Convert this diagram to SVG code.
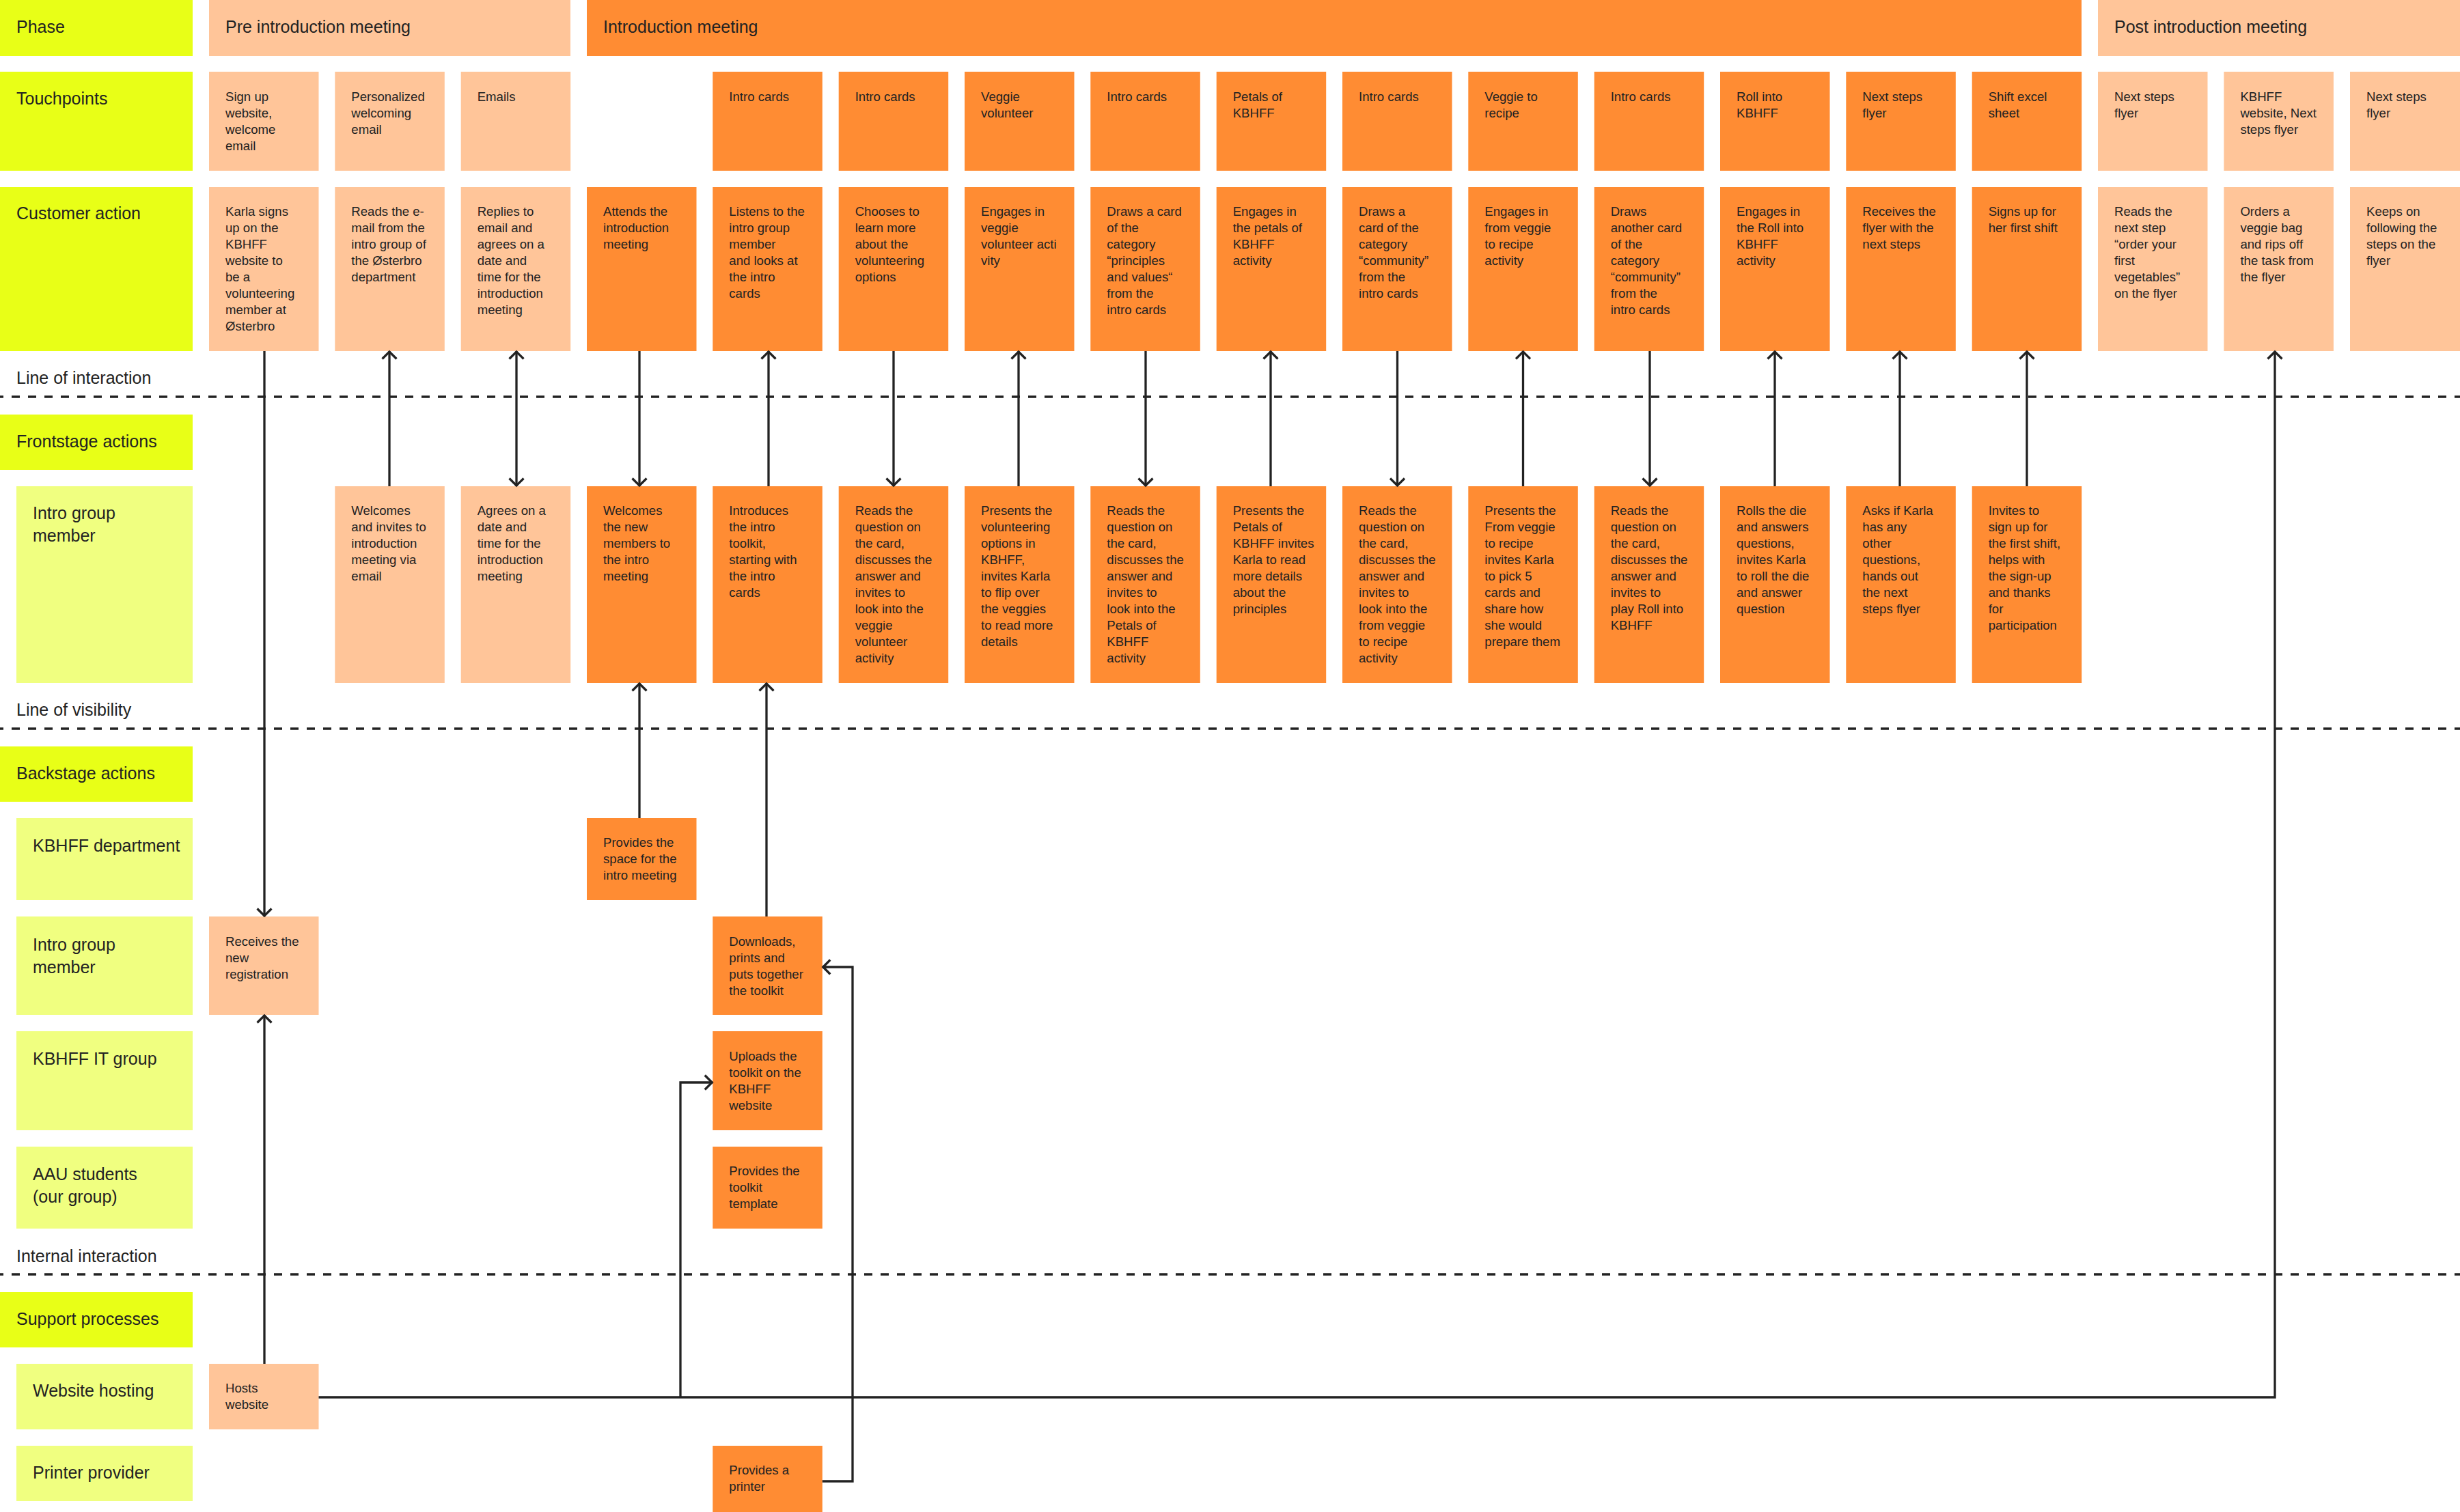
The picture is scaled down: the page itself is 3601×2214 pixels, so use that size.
<svg xmlns="http://www.w3.org/2000/svg" width="3601" height="2214" viewBox="0 0 3601 2214">
<style>
text{font-family:"Liberation Sans",Arial,sans-serif;fill:#222}
.s{font-size:18.6px}
.h{font-size:25px}
.lime{fill:#e8ff17}.pale{fill:#f0ff80}.org{fill:#ff8c33}.pch{fill:#ffc599}
.c{fill:none;stroke:#222;stroke-width:3.3}
.d{fill:none;stroke:#222;stroke-width:3.3;stroke-dasharray:12 12;stroke-dashoffset:7}
</style>
<defs>
<marker id="a" markerUnits="userSpaceOnUse" markerWidth="26" markerHeight="28" refX="14" refY="14" orient="auto-start-reverse" viewBox="0 0 26 28"><path d="M2.500 3.500L13 14L2.500 24.500" fill="none" stroke="#222" stroke-width="3.300"/></marker>
</defs>
<rect width="3601" height="2214" fill="#fff"/>
<g id="labels">
<g id="l-phase"><rect class="lime" x="0" y="0" width="282" height="82"/><text class="h" x="24" y="48">Phase</text></g>
<g id="l-touch"><rect class="lime" x="0" y="105" width="282" height="145"/><text class="h" x="24" y="153">Touchpoints</text></g>
<g id="l-cust"><rect class="lime" x="0" y="274" width="282" height="240"/><text class="h" x="24" y="321">Customer action</text></g>
<text class="h" x="24" y="562">Line of interaction</text>
<g id="l-front"><rect class="lime" x="0" y="607" width="282" height="81"/><text class="h" x="24" y="655">Frontstage actions</text></g>
<g id="l-intro1"><rect class="pale" x="24" y="712" width="258" height="288"/><text class="h" x="48" y="760">Intro group<tspan x="48" dy="33">member</tspan></text></g>
<text class="h" x="24" y="1048">Line of visibility</text>
<g id="l-back"><rect class="lime" x="0" y="1093" width="282" height="81"/><text class="h" x="24" y="1141">Backstage actions</text></g>
<g id="l-dept"><rect class="pale" x="24" y="1198" width="258" height="120"/><text class="h" x="48" y="1247">KBHFF department</text></g>
<g id="l-intro2"><rect class="pale" x="24" y="1342" width="258" height="144"/><text class="h" x="48" y="1392">Intro group<tspan x="48" dy="33">member</tspan></text></g>
<g id="l-it"><rect class="pale" x="24" y="1510" width="258" height="145"/><text class="h" x="48" y="1559">KBHFF IT group</text></g>
<g id="l-aau"><rect class="pale" x="24" y="1679" width="258" height="120"/><text class="h" x="48" y="1728">AAU students<tspan x="48" dy="33">(our group)</tspan></text></g>
<text class="h" x="24" y="1848">Internal interaction</text>
<g id="l-support"><rect class="lime" x="0" y="1892" width="282" height="81"/><text class="h" x="24" y="1940">Support processes</text></g>
<g id="l-host"><rect class="pale" x="24" y="1997" width="258" height="96"/><text class="h" x="48" y="2045">Website hosting</text></g>
<g id="l-print"><rect class="pale" x="24" y="2117" width="258" height="81"/><text class="h" x="48" y="2165">Printer provider</text></g>
</g>
<g id="phases">
<g id="p-pre"><rect class="pch" x="306" y="0" width="529" height="82"/><text class="h" x="330" y="48">Pre introduction meeting</text></g>
<g id="p-intro"><rect class="org" x="859" y="0" width="2188" height="82"/><text class="h" x="883" y="48">Introduction meeting</text></g>
<g id="p-post"><rect class="pch" x="3071" y="0" width="530" height="82"/><text class="h" x="3095" y="48">Post introduction meeting</text></g>
</g>
<g id="touchpoints">
<g id="t0"><rect class="pch" x="306" y="105" width="160.500" height="145"/><text class="s" x="330" y="147.500">Sign up<tspan x="330" dy="24">website,</tspan><tspan x="330" dy="24">welcome</tspan><tspan x="330" dy="24">email</tspan></text></g>
<g id="t1"><rect class="pch" x="490.300" y="105" width="160.500" height="145"/><text class="s" x="514.300" y="147.500">Personalized<tspan x="514.300" dy="24">welcoming</tspan><tspan x="514.300" dy="24">email</tspan></text></g>
<g id="t2"><rect class="pch" x="674.700" y="105" width="160.500" height="145"/><text class="s" x="698.700" y="147.500">Emails</text></g>
<g id="t4"><rect class="org" x="1043.300" y="105" width="160.500" height="145"/><text class="s" x="1067.300" y="147.500">Intro cards</text></g>
<g id="t5"><rect class="org" x="1227.700" y="105" width="160.500" height="145"/><text class="s" x="1251.700" y="147.500">Intro cards</text></g>
<g id="t6"><rect class="org" x="1412" y="105" width="160.500" height="145"/><text class="s" x="1436" y="147.500">Veggie<tspan x="1436" dy="24">volunteer</tspan></text></g>
<g id="t7"><rect class="org" x="1596.300" y="105" width="160.500" height="145"/><text class="s" x="1620.300" y="147.500">Intro cards</text></g>
<g id="t8"><rect class="org" x="1780.700" y="105" width="160.500" height="145"/><text class="s" x="1804.700" y="147.500">Petals of<tspan x="1804.700" dy="24">KBHFF</tspan></text></g>
<g id="t9"><rect class="org" x="1965" y="105" width="160.500" height="145"/><text class="s" x="1989" y="147.500">Intro cards</text></g>
<g id="t10"><rect class="org" x="2149.300" y="105" width="160.500" height="145"/><text class="s" x="2173.300" y="147.500">Veggie to<tspan x="2173.300" dy="24">recipe</tspan></text></g>
<g id="t11"><rect class="org" x="2333.700" y="105" width="160.500" height="145"/><text class="s" x="2357.700" y="147.500">Intro cards</text></g>
<g id="t12"><rect class="org" x="2518" y="105" width="160.500" height="145"/><text class="s" x="2542" y="147.500">Roll into<tspan x="2542" dy="24">KBHFF</tspan></text></g>
<g id="t13"><rect class="org" x="2702.300" y="105" width="160.500" height="145"/><text class="s" x="2726.300" y="147.500">Next steps<tspan x="2726.300" dy="24">flyer</tspan></text></g>
<g id="t14"><rect class="org" x="2886.700" y="105" width="160.500" height="145"/><text class="s" x="2910.700" y="147.500">Shift excel<tspan x="2910.700" dy="24">sheet</tspan></text></g>
<g id="t15"><rect class="pch" x="3071" y="105" width="160.500" height="145"/><text class="s" x="3095" y="147.500">Next steps<tspan x="3095" dy="24">flyer</tspan></text></g>
<g id="t16"><rect class="pch" x="3255.400" y="105" width="160.500" height="145"/><text class="s" x="3279.400" y="147.500">KBHFF<tspan x="3279.400" dy="24">website, Next</tspan><tspan x="3279.400" dy="24">steps flyer</tspan></text></g>
<g id="t17"><rect class="pch" x="3440" y="105" width="161" height="145"/><text class="s" x="3464" y="147.500">Next steps<tspan x="3464" dy="24">flyer</tspan></text></g>
</g>
<g id="customer">
<g id="c0"><rect class="pch" x="306" y="274" width="160.500" height="240"/><text class="s" x="330" y="316">Karla signs<tspan x="330" dy="24">up on the</tspan><tspan x="330" dy="24">KBHFF</tspan><tspan x="330" dy="24">website to</tspan><tspan x="330" dy="24">be a</tspan><tspan x="330" dy="24">volunteering</tspan><tspan x="330" dy="24">member at</tspan><tspan x="330" dy="24">Østerbro</tspan></text></g>
<g id="c1"><rect class="pch" x="490.300" y="274" width="160.500" height="240"/><text class="s" x="514.300" y="316">Reads the e-<tspan x="514.300" dy="24">mail from the</tspan><tspan x="514.300" dy="24">intro group of</tspan><tspan x="514.300" dy="24">the Østerbro</tspan><tspan x="514.300" dy="24">department</tspan></text></g>
<g id="c2"><rect class="pch" x="674.700" y="274" width="160.500" height="240"/><text class="s" x="698.700" y="316">Replies to<tspan x="698.700" dy="24">email and</tspan><tspan x="698.700" dy="24">agrees on a</tspan><tspan x="698.700" dy="24">date and</tspan><tspan x="698.700" dy="24">time for the</tspan><tspan x="698.700" dy="24">introduction</tspan><tspan x="698.700" dy="24">meeting</tspan></text></g>
<g id="c3"><rect class="org" x="859" y="274" width="160.500" height="240"/><text class="s" x="883" y="316">Attends the<tspan x="883" dy="24">introduction</tspan><tspan x="883" dy="24">meeting</tspan></text></g>
<g id="c4"><rect class="org" x="1043.300" y="274" width="160.500" height="240"/><text class="s" x="1067.300" y="316">Listens to the<tspan x="1067.300" dy="24">intro group</tspan><tspan x="1067.300" dy="24">member</tspan><tspan x="1067.300" dy="24">and looks at</tspan><tspan x="1067.300" dy="24">the intro</tspan><tspan x="1067.300" dy="24">cards</tspan></text></g>
<g id="c5"><rect class="org" x="1227.700" y="274" width="160.500" height="240"/><text class="s" x="1251.700" y="316">Chooses to<tspan x="1251.700" dy="24">learn more</tspan><tspan x="1251.700" dy="24">about the</tspan><tspan x="1251.700" dy="24">volunteering</tspan><tspan x="1251.700" dy="24">options</tspan></text></g>
<g id="c6"><rect class="org" x="1412" y="274" width="160.500" height="240"/><text class="s" x="1436" y="316">Engages in<tspan x="1436" dy="24">veggie</tspan><tspan x="1436" dy="24">volunteer acti</tspan><tspan x="1436" dy="24">vity</tspan></text></g>
<g id="c7"><rect class="org" x="1596.300" y="274" width="160.500" height="240"/><text class="s" x="1620.300" y="316">Draws a card<tspan x="1620.300" dy="24">of the</tspan><tspan x="1620.300" dy="24">category</tspan><tspan x="1620.300" dy="24">“principles</tspan><tspan x="1620.300" dy="24">and values“</tspan><tspan x="1620.300" dy="24">from the</tspan><tspan x="1620.300" dy="24">intro cards</tspan></text></g>
<g id="c8"><rect class="org" x="1780.700" y="274" width="160.500" height="240"/><text class="s" x="1804.700" y="316">Engages in<tspan x="1804.700" dy="24">the petals of</tspan><tspan x="1804.700" dy="24">KBHFF</tspan><tspan x="1804.700" dy="24">activity</tspan></text></g>
<g id="c9"><rect class="org" x="1965" y="274" width="160.500" height="240"/><text class="s" x="1989" y="316">Draws a<tspan x="1989" dy="24">card of the</tspan><tspan x="1989" dy="24">category</tspan><tspan x="1989" dy="24">“community”</tspan><tspan x="1989" dy="24">from the</tspan><tspan x="1989" dy="24">intro cards</tspan></text></g>
<g id="c10"><rect class="org" x="2149.300" y="274" width="160.500" height="240"/><text class="s" x="2173.300" y="316">Engages in<tspan x="2173.300" dy="24">from veggie</tspan><tspan x="2173.300" dy="24">to recipe</tspan><tspan x="2173.300" dy="24">activity</tspan></text></g>
<g id="c11"><rect class="org" x="2333.700" y="274" width="160.500" height="240"/><text class="s" x="2357.700" y="316">Draws<tspan x="2357.700" dy="24">another card</tspan><tspan x="2357.700" dy="24">of the</tspan><tspan x="2357.700" dy="24">category</tspan><tspan x="2357.700" dy="24">“community”</tspan><tspan x="2357.700" dy="24">from the</tspan><tspan x="2357.700" dy="24">intro cards</tspan></text></g>
<g id="c12"><rect class="org" x="2518" y="274" width="160.500" height="240"/><text class="s" x="2542" y="316">Engages in<tspan x="2542" dy="24">the Roll into</tspan><tspan x="2542" dy="24">KBHFF</tspan><tspan x="2542" dy="24">activity</tspan></text></g>
<g id="c13"><rect class="org" x="2702.300" y="274" width="160.500" height="240"/><text class="s" x="2726.300" y="316">Receives the<tspan x="2726.300" dy="24">flyer with the</tspan><tspan x="2726.300" dy="24">next steps</tspan></text></g>
<g id="c14"><rect class="org" x="2886.700" y="274" width="160.500" height="240"/><text class="s" x="2910.700" y="316">Signs up for<tspan x="2910.700" dy="24">her first shift</tspan></text></g>
<g id="c15"><rect class="pch" x="3071" y="274" width="160.500" height="240"/><text class="s" x="3095" y="316">Reads the<tspan x="3095" dy="24">next step</tspan><tspan x="3095" dy="24">“order your</tspan><tspan x="3095" dy="24">first</tspan><tspan x="3095" dy="24">vegetables”</tspan><tspan x="3095" dy="24">on the flyer</tspan></text></g>
<g id="c16"><rect class="pch" x="3255.400" y="274" width="160.500" height="240"/><text class="s" x="3279.400" y="316">Orders a<tspan x="3279.400" dy="24">veggie bag</tspan><tspan x="3279.400" dy="24">and rips off</tspan><tspan x="3279.400" dy="24">the task from</tspan><tspan x="3279.400" dy="24">the flyer</tspan></text></g>
<g id="c17"><rect class="pch" x="3440" y="274" width="161" height="240"/><text class="s" x="3464" y="316">Keeps on<tspan x="3464" dy="24">following the</tspan><tspan x="3464" dy="24">steps on the</tspan><tspan x="3464" dy="24">flyer</tspan></text></g>
</g>
<g id="frontstage">
<g id="f1"><rect class="pch" x="490.300" y="712" width="160.500" height="288"/><text class="s" x="514.300" y="754">Welcomes<tspan x="514.300" dy="24">and invites to</tspan><tspan x="514.300" dy="24">introduction</tspan><tspan x="514.300" dy="24">meeting via</tspan><tspan x="514.300" dy="24">email</tspan></text></g>
<g id="f2"><rect class="pch" x="674.700" y="712" width="160.500" height="288"/><text class="s" x="698.700" y="754">Agrees on a<tspan x="698.700" dy="24">date and</tspan><tspan x="698.700" dy="24">time for the</tspan><tspan x="698.700" dy="24">introduction</tspan><tspan x="698.700" dy="24">meeting</tspan></text></g>
<g id="f3"><rect class="org" x="859" y="712" width="160.500" height="288"/><text class="s" x="883" y="754">Welcomes<tspan x="883" dy="24">the new</tspan><tspan x="883" dy="24">members to</tspan><tspan x="883" dy="24">the intro</tspan><tspan x="883" dy="24">meeting</tspan></text></g>
<g id="f4"><rect class="org" x="1043.300" y="712" width="160.500" height="288"/><text class="s" x="1067.300" y="754">Introduces<tspan x="1067.300" dy="24">the intro</tspan><tspan x="1067.300" dy="24">toolkit,</tspan><tspan x="1067.300" dy="24">starting with</tspan><tspan x="1067.300" dy="24">the intro</tspan><tspan x="1067.300" dy="24">cards</tspan></text></g>
<g id="f5"><rect class="org" x="1227.700" y="712" width="160.500" height="288"/><text class="s" x="1251.700" y="754">Reads the<tspan x="1251.700" dy="24">question on</tspan><tspan x="1251.700" dy="24">the card,</tspan><tspan x="1251.700" dy="24">discusses the</tspan><tspan x="1251.700" dy="24">answer and</tspan><tspan x="1251.700" dy="24">invites to</tspan><tspan x="1251.700" dy="24">look into the</tspan><tspan x="1251.700" dy="24">veggie</tspan><tspan x="1251.700" dy="24">volunteer</tspan><tspan x="1251.700" dy="24">activity</tspan></text></g>
<g id="f6"><rect class="org" x="1412" y="712" width="160.500" height="288"/><text class="s" x="1436" y="754">Presents the<tspan x="1436" dy="24">volunteering</tspan><tspan x="1436" dy="24">options in</tspan><tspan x="1436" dy="24">KBHFF,</tspan><tspan x="1436" dy="24">invites Karla</tspan><tspan x="1436" dy="24">to flip over</tspan><tspan x="1436" dy="24">the veggies</tspan><tspan x="1436" dy="24">to read more</tspan><tspan x="1436" dy="24">details</tspan></text></g>
<g id="f7"><rect class="org" x="1596.300" y="712" width="160.500" height="288"/><text class="s" x="1620.300" y="754">Reads the<tspan x="1620.300" dy="24">question on</tspan><tspan x="1620.300" dy="24">the card,</tspan><tspan x="1620.300" dy="24">discusses the</tspan><tspan x="1620.300" dy="24">answer and</tspan><tspan x="1620.300" dy="24">invites to</tspan><tspan x="1620.300" dy="24">look into the</tspan><tspan x="1620.300" dy="24">Petals of</tspan><tspan x="1620.300" dy="24">KBHFF</tspan><tspan x="1620.300" dy="24">activity</tspan></text></g>
<g id="f8"><rect class="org" x="1780.700" y="712" width="160.500" height="288"/><text class="s" x="1804.700" y="754">Presents the<tspan x="1804.700" dy="24">Petals of</tspan><tspan x="1804.700" dy="24">KBHFF invites</tspan><tspan x="1804.700" dy="24">Karla to read</tspan><tspan x="1804.700" dy="24">more details</tspan><tspan x="1804.700" dy="24">about the</tspan><tspan x="1804.700" dy="24">principles</tspan></text></g>
<g id="f9"><rect class="org" x="1965" y="712" width="160.500" height="288"/><text class="s" x="1989" y="754">Reads the<tspan x="1989" dy="24">question on</tspan><tspan x="1989" dy="24">the card,</tspan><tspan x="1989" dy="24">discusses the</tspan><tspan x="1989" dy="24">answer and</tspan><tspan x="1989" dy="24">invites to</tspan><tspan x="1989" dy="24">look into the</tspan><tspan x="1989" dy="24">from veggie</tspan><tspan x="1989" dy="24">to recipe</tspan><tspan x="1989" dy="24">activity</tspan></text></g>
<g id="f10"><rect class="org" x="2149.300" y="712" width="160.500" height="288"/><text class="s" x="2173.300" y="754">Presents the<tspan x="2173.300" dy="24">From veggie</tspan><tspan x="2173.300" dy="24">to recipe</tspan><tspan x="2173.300" dy="24">invites Karla</tspan><tspan x="2173.300" dy="24">to pick 5</tspan><tspan x="2173.300" dy="24">cards and</tspan><tspan x="2173.300" dy="24">share how</tspan><tspan x="2173.300" dy="24">she would</tspan><tspan x="2173.300" dy="24">prepare them</tspan></text></g>
<g id="f11"><rect class="org" x="2333.700" y="712" width="160.500" height="288"/><text class="s" x="2357.700" y="754">Reads the<tspan x="2357.700" dy="24">question on</tspan><tspan x="2357.700" dy="24">the card,</tspan><tspan x="2357.700" dy="24">discusses the</tspan><tspan x="2357.700" dy="24">answer and</tspan><tspan x="2357.700" dy="24">invites to</tspan><tspan x="2357.700" dy="24">play Roll into</tspan><tspan x="2357.700" dy="24">KBHFF</tspan></text></g>
<g id="f12"><rect class="org" x="2518" y="712" width="160.500" height="288"/><text class="s" x="2542" y="754">Rolls the die<tspan x="2542" dy="24">and answers</tspan><tspan x="2542" dy="24">questions,</tspan><tspan x="2542" dy="24">invites Karla</tspan><tspan x="2542" dy="24">to roll the die</tspan><tspan x="2542" dy="24">and answer</tspan><tspan x="2542" dy="24">question</tspan></text></g>
<g id="f13"><rect class="org" x="2702.300" y="712" width="160.500" height="288"/><text class="s" x="2726.300" y="754">Asks if Karla<tspan x="2726.300" dy="24">has any</tspan><tspan x="2726.300" dy="24">other</tspan><tspan x="2726.300" dy="24">questions,</tspan><tspan x="2726.300" dy="24">hands out</tspan><tspan x="2726.300" dy="24">the next</tspan><tspan x="2726.300" dy="24">steps flyer</tspan></text></g>
<g id="f14"><rect class="org" x="2886.700" y="712" width="160.500" height="288"/><text class="s" x="2910.700" y="754">Invites to<tspan x="2910.700" dy="24">sign up for</tspan><tspan x="2910.700" dy="24">the first shift,</tspan><tspan x="2910.700" dy="24">helps with</tspan><tspan x="2910.700" dy="24">the sign-up</tspan><tspan x="2910.700" dy="24">and thanks</tspan><tspan x="2910.700" dy="24">for</tspan><tspan x="2910.700" dy="24">participation</tspan></text></g>
</g>
<g id="backstage">
<g id="b-space"><rect class="org" x="859" y="1198" width="160.500" height="120"/><text class="s" x="883" y="1240">Provides the<tspan x="883" dy="24">space for the</tspan><tspan x="883" dy="24">intro meeting</tspan></text></g>
<g id="b-reg"><rect class="pch" x="306" y="1342" width="160.500" height="144"/><text class="s" x="330" y="1385">Receives the<tspan x="330" dy="24">new</tspan><tspan x="330" dy="24">registration</tspan></text></g>
<g id="b-down"><rect class="org" x="1043.300" y="1342" width="160.500" height="144"/><text class="s" x="1067.300" y="1385">Downloads,<tspan x="1067.300" dy="24">prints and</tspan><tspan x="1067.300" dy="24">puts together</tspan><tspan x="1067.300" dy="24">the toolkit</tspan></text></g>
<g id="b-up"><rect class="org" x="1043.300" y="1510" width="160.500" height="145"/><text class="s" x="1067.300" y="1553">Uploads the<tspan x="1067.300" dy="24">toolkit on the</tspan><tspan x="1067.300" dy="24">KBHFF</tspan><tspan x="1067.300" dy="24">website</tspan></text></g>
<g id="b-tpl"><rect class="org" x="1043.300" y="1679" width="160.500" height="120"/><text class="s" x="1067.300" y="1721">Provides the<tspan x="1067.300" dy="24">toolkit</tspan><tspan x="1067.300" dy="24">template</tspan></text></g>
<g id="s-host"><rect class="pch" x="306" y="1997" width="160.500" height="96"/><text class="s" x="330" y="2039">Hosts<tspan x="330" dy="24">website</tspan></text></g>
<g id="s-print"><rect class="org" x="1043.300" y="2117" width="160.500" height="97"/><text class="s" x="1067.300" y="2159">Provides a<tspan x="1067.300" dy="24">printer</tspan></text></g>
</g>
<g id="connectors">
<path class="d" d="M0 581H3601"/>
<path class="d" d="M0 1067H3601"/>
<path class="d" d="M0 1866H3601"/>
<path class="c" d="M387 514V1342" marker-end="url(#a)"/>
<path class="c" d="M387 1997V1486" marker-end="url(#a)"/>
<path class="c" d="M570 712V514" marker-end="url(#a)"/>
<path class="c" d="M756 514V712" marker-start="url(#a)" marker-end="url(#a)"/>
<path class="c" d="M936 514V712" marker-end="url(#a)"/>
<path class="c" d="M936 1198V1000" marker-end="url(#a)"/>
<path class="c" d="M1125 712V514" marker-end="url(#a)"/>
<path class="c" d="M1122 1342V1000" marker-end="url(#a)"/>
<path class="c" d="M1308 514V712" marker-end="url(#a)"/>
<path class="c" d="M1491 712V514" marker-end="url(#a)"/>
<path class="c" d="M1677 514V712" marker-end="url(#a)"/>
<path class="c" d="M1860 712V514" marker-end="url(#a)"/>
<path class="c" d="M2045.500 514V712" marker-end="url(#a)"/>
<path class="c" d="M2229.500 712V514" marker-end="url(#a)"/>
<path class="c" d="M2415 514V712" marker-end="url(#a)"/>
<path class="c" d="M2598 712V514" marker-end="url(#a)"/>
<path class="c" d="M2781 712V514" marker-end="url(#a)"/>
<path class="c" d="M2967 712V514" marker-end="url(#a)"/>
<path class="c" d="M466.500 2046H3330V514" marker-end="url(#a)"/>
<path class="c" d="M996 2046V1585H1043.300" marker-end="url(#a)"/>
<path class="c" d="M1203.800 2169H1248V1416H1203.800" marker-end="url(#a)"/>
</g>
</svg>
